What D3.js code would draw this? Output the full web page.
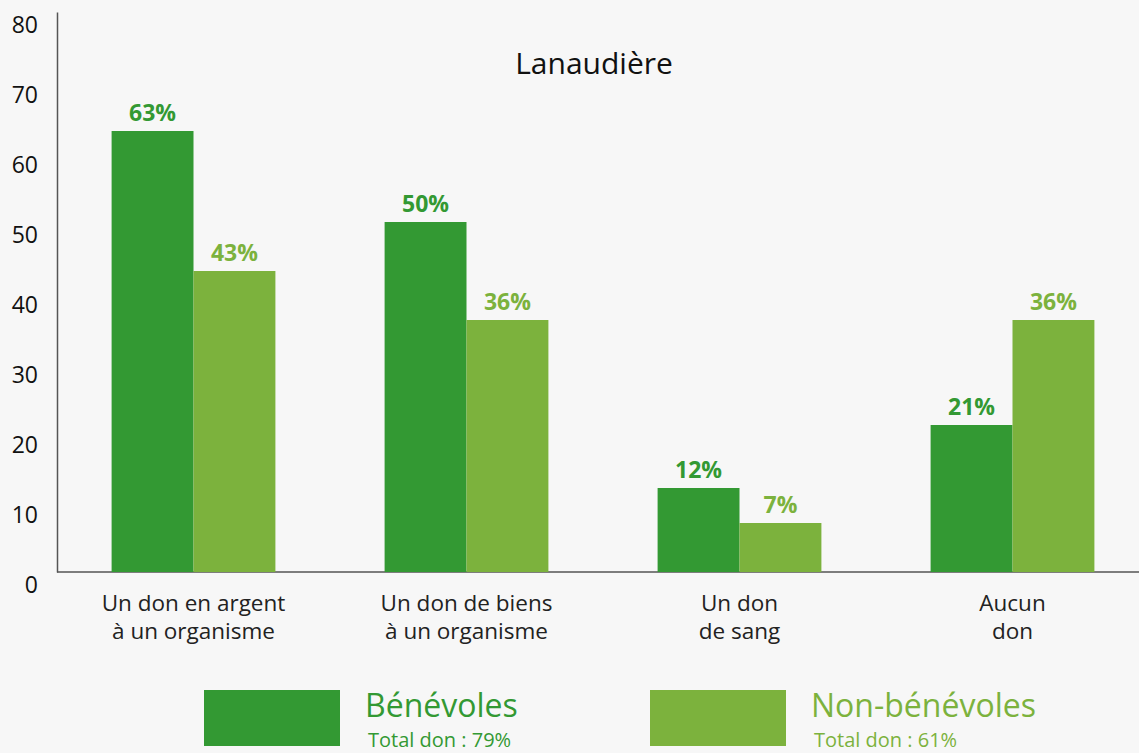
<!DOCTYPE html>
<meta charset="utf-8">
<script src="https://d3js.org/d3.v7.min.js"></script>
<style>
  body { margin: 0; background: #f7f7f7; }
  text { font-family: "Open Sans", "Lato", sans-serif; }
</style>
<div id="chart"></div>
<script>

// data
const categories = [
    ["Un don en argent", "à un organisme"],
    ["Un don de biens", "à un organisme"],
    ["Un don", "de sang"],
    ["Aucun", "don"]
];
const benevoles = [63, 50, 12, 21];
const nonBenevoles = [43, 36, 7, 36];
const seriesNames = ["Bénévoles", "Non-bénévoles"];
const seriesTotals = ["Total don : 79%", "Total don : 61%"];
const yTicks = [0, 10, 20, 30, 40, 50, 60, 70, 80];
const colors = ["#339933", "#7cb23d"];

const width = 1139, height = 753;

const svg = d3.select("#chart")
    .append("svg")
    .attr("width", width)
    .attr("height", height);

svg.append("rect").attr("width", width).attr("height", height).attr("fill", "#f7f7f7");

// scales
const x = d3.scaleBand()
    .domain(d3.range(categories.length))
    .range([57, 1149])
    .paddingInner(0.4)
    .paddingOuter(0.2);

const xSub = d3.scaleBand()
    .domain([0, 1])
    .range([0, x.bandwidth()]);

const y = d3.scaleLinear()
    .domain([0, 80])
    .range([572, 12]);

// y axis
const yAxis = svg.append("g")
    .attr("transform", "translate(57,0)")
    .call(d3.axisLeft(y).tickValues(yTicks).tickSize(0).tickPadding(19));
yAxis.select(".domain").attr("stroke", "#555").attr("stroke-width", 1.5);
yAxis.selectAll("text")
    .attr("dy", "0.35em")
    .attr("y", 12)
    .style("font-size", "23px")
    .style("fill", "#111");

// x baseline
svg.append("line")
    .attr("x1", 57).attr("x2", width)
    .attr("y1", y(0)).attr("y2", y(0))
    .attr("stroke", "#555").attr("stroke-width", 1.5);

// title
svg.append("text")
    .attr("x", 594).attr("y", 74)
    .attr("text-anchor", "middle")
    .style("font-size", "30px")
    .style("fill", "#111")
    .text("Lanaudière");

// bars
const series = [benevoles, nonBenevoles];
series.forEach((vals, s) => {
    svg.selectAll(".bar" + s)
        .data(vals)
        .enter()
        .append("rect")
        .attr("x", (d, i) => x(i) + xSub(s))
        .attr("y", (d) => y(d))
        .attr("width", xSub.bandwidth())
        .attr("height", (d) => y(0) - y(d))
        .attr("fill", colors[s]);

    svg.selectAll(".lab" + s)
        .data(vals)
        .enter()
        .append("text")
        .attr("x", (d, i) => x(i) + xSub(s) + xSub.bandwidth() / 2)
        .attr("y", (d) => y(d) - 10)
        .attr("text-anchor", "middle")
        .style("font-size", "23px")
        .style("font-weight", "bold")
        .style("fill", colors[s])
        .text((d) => d + "%");
});

// category labels (two lines each)
const catLabels = svg.selectAll(".cat")
    .data(categories)
    .enter()
    .append("text")
    .attr("text-anchor", "middle")
    .style("font-size", "22.5px")
    .style("fill", "#222");
catLabels.each(function (d, i) {
    d3.select(this).selectAll("tspan")
        .data(d)
        .enter()
        .append("tspan")
        .attr("x", x(i) + x.bandwidth() / 2)
        .attr("y", (t, j) => 611 + j * 28)
        .text((t) => t);
});

// legend
const legendX = [204, 650];
seriesNames.forEach((name, s) => {
    svg.append("rect")
        .attr("x", legendX[s]).attr("y", 690)
        .attr("width", 136).attr("height", 56)
        .attr("fill", colors[s]);
    svg.append("text")
        .attr("x", legendX[s] + 161).attr("y", 717)
        .style("font-size", "32px")
        .style("fill", colors[s])
        .text(name);
    svg.append("text")
        .attr("x", legendX[s] + 164).attr("y", 747)
        .style("font-size", "20px")
        .style("fill", colors[s])
        .text(seriesTotals[s]);
});

</script>
